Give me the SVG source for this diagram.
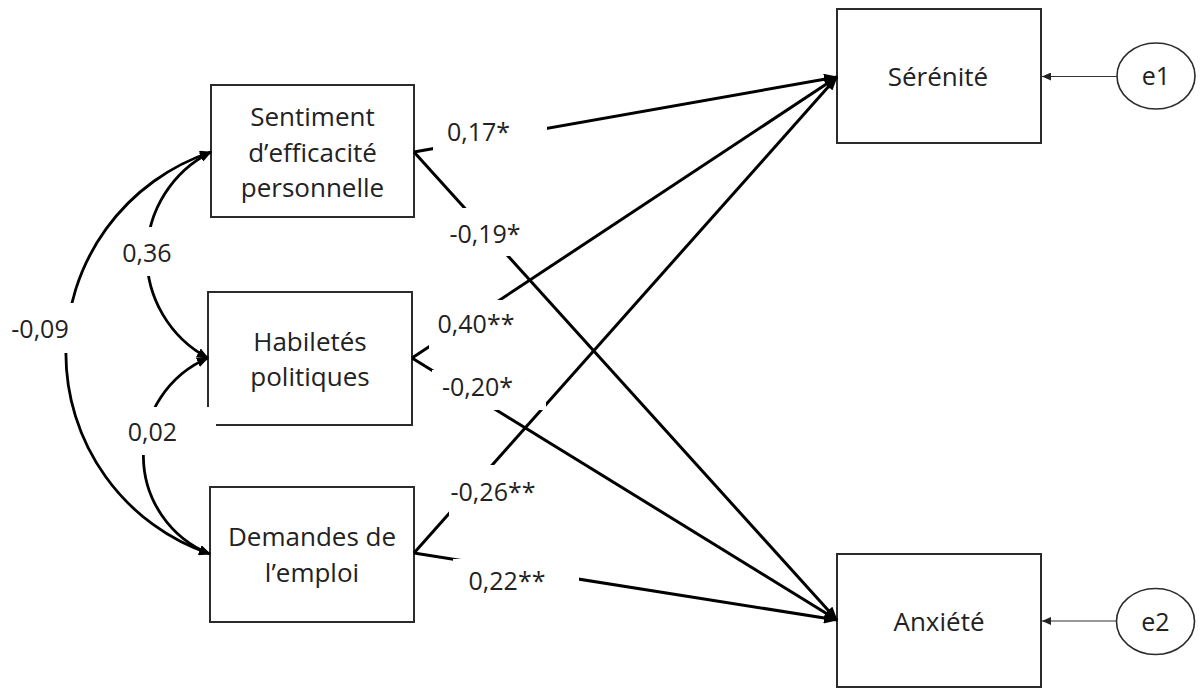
<svg xmlns="http://www.w3.org/2000/svg" width="1200" height="690" viewBox="0 0 1200 690">
<defs>
<style>
.box{fill:#fff;stroke:#2b2b2b;stroke-width:2}
.err{fill:#fff;stroke:#2b2b2b;stroke-width:1.6}
.t{font-family:"Open Sans","Noto Sans","Liberation Sans",sans-serif;font-size:26px;fill:#222;text-anchor:middle}
.lbl{font-family:"Open Sans","Noto Sans","Liberation Sans",sans-serif;font-size:25px;fill:#222;text-anchor:middle}
.pth{fill:none;stroke:#000;stroke-width:3;marker-end:url(#ah)}
.cov{fill:none;stroke:#000;stroke-width:2.8;marker-start:url(#ahc);marker-end:url(#ahc)}
.res{fill:none;stroke:#333;stroke-width:1.2;marker-end:url(#ahs)}
.bg{fill:#fff}
</style>
<marker id="ah" markerUnits="userSpaceOnUse" markerWidth="14" markerHeight="11" viewBox="0 0 14 11" refX="13" refY="5.5" orient="auto"><path d="M0,0 L14,5.5 L0,11 z" fill="#000"/></marker>
<marker id="ahc" markerUnits="userSpaceOnUse" markerWidth="12" markerHeight="10" viewBox="0 0 12 10" refX="11" refY="5" orient="auto-start-reverse"><path d="M0,0 L12,5 L0,10 z" fill="#000"/></marker>
<marker id="ahs" markerUnits="userSpaceOnUse" markerWidth="9" markerHeight="8" viewBox="0 0 9 8" refX="9" refY="4" orient="auto"><path d="M0,0 L9,4 L0,8 z" fill="#222"/></marker>
</defs>
<rect x="0" y="0" width="1200" height="690" fill="#fff"/>

<g id="sentiment">
<rect class="box" x="211" y="85" width="203" height="132"/>
<text class="t" x="312.5" y="126">Sentiment</text>
<text class="t" x="312.5" y="162">d’efficacité</text>
<text class="t" x="312.5" y="197">personnelle</text>
</g>
<g id="habiletes">
<rect class="box" x="208" y="292" width="204" height="133"/>
<text class="t" x="310" y="351">Habiletés</text>
<text class="t" x="310" y="386">politiques</text>
</g>
<g id="demandes">
<rect class="box" x="210" y="487" width="204" height="135"/>
<text class="t" x="312" y="546">Demandes de</text>
<text class="t" x="312" y="582">l’emploi</text>
</g>
<g id="serenite">
<rect class="box" x="837" y="9" width="204" height="134"/>
<text class="t" x="938" y="86">Sérénité</text>
</g>
<g id="anxiete">
<rect class="box" x="837" y="554" width="204" height="133"/>
<text class="t" x="939" y="631">Anxiété</text>
</g>
<g id="e1">
<ellipse class="err" cx="1156" cy="76" rx="39" ry="33"/>
<text class="lbl" x="1156" y="85">e1</text>
</g>
<g id="e2">
<ellipse class="err" cx="1155.5" cy="621.5" rx="39" ry="33"/>
<text class="lbl" x="1155.5" y="631">e2</text>
</g>

<g id="connectors">
<path class="cov" d="M211,152 A116,116 0 0 0 208,358"/>
<path class="cov" d="M211,152 A212,212 0 0 0 210,554"/>
<path class="cov" d="M208,358 A106,106 0 0 0 210,554"/>
<line class="pth" x1="414" y1="152" x2="837" y2="77"/>
<line class="pth" x1="414" y1="152" x2="837" y2="620"/>
<line class="pth" x1="412" y1="358" x2="837" y2="77"/>
<line class="pth" x1="412" y1="358" x2="837" y2="620"/>
<line class="pth" x1="414" y1="553" x2="837" y2="77"/>
<line class="pth" x1="414" y1="553" x2="837" y2="620"/>
<line class="res" x1="1117" y1="76.5" x2="1042" y2="76.5"/>
<line class="res" x1="1116.5" y1="621" x2="1042" y2="621"/>
</g>

<g id="labels">
<rect class="bg" x="112" y="227" width="73" height="49"/>
<text class="lbl" x="147" y="262">0,36</text>
<rect class="bg" x="4" y="303" width="76" height="50"/>
<text class="lbl" x="40" y="338">-0,09</text>
<rect class="bg" x="118" y="407" width="98" height="48"/>
<text class="lbl" x="152.5" y="441">0,02</text>
<rect class="bg" x="433" y="108" width="114" height="50"/>
<text class="lbl" x="478.5" y="141">0,17*</text>
<rect class="bg" x="440" y="208" width="90" height="48"/>
<text class="lbl" x="485" y="243">-0,19*</text>
<rect class="bg" x="429" y="300" width="101" height="67"/>
<text class="lbl" x="476" y="333">0,40**</text>
<rect class="bg" x="432" y="370" width="114" height="40"/>
<text class="lbl" x="477.5" y="396">-0,20*</text>
<rect class="bg" x="449" y="465" width="111" height="55"/>
<text class="lbl" x="493" y="501">-0,26**</text>
<rect class="bg" x="453" y="559" width="126" height="41"/>
<text class="lbl" x="507" y="590">0,22**</text>
</g>
</svg>
